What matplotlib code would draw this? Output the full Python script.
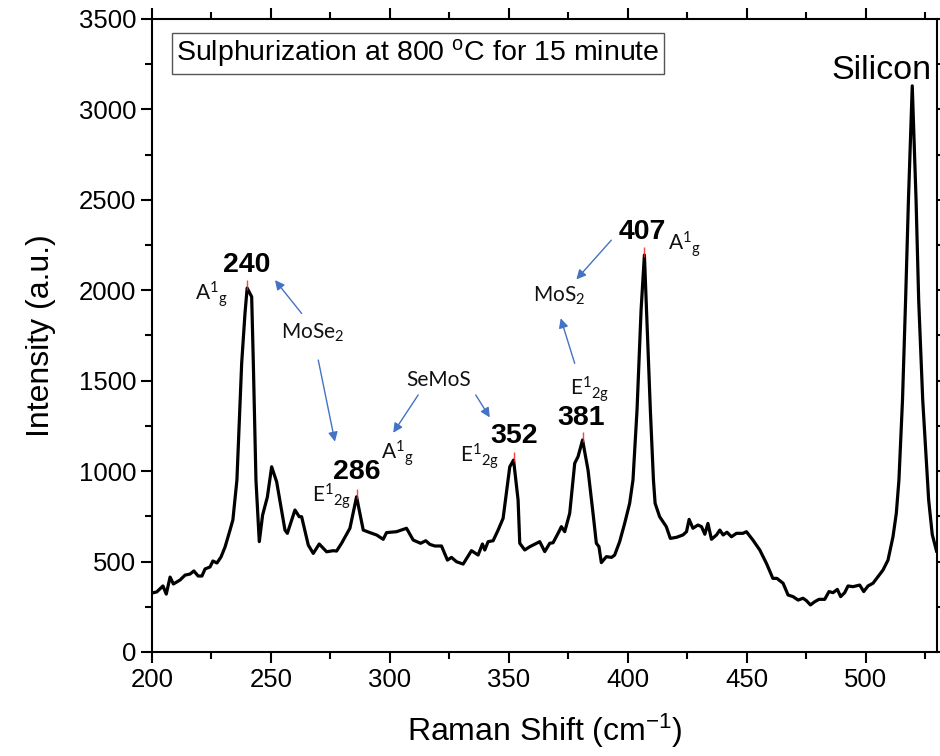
import numpy as np
import matplotlib
matplotlib.use("Agg")
import matplotlib.pyplot as plt
from matplotlib.ticker import MultipleLocator

# Raman spectrum (cm^-1, a.u.)
raman_shift = [
    200, 202, 204.6, 206, 207.6, 209, 211.8, 213.9, 216, 217.6, 219.4, 221,
    222.3, 224.4, 225.6, 227.3, 229, 230.7, 232.8, 234, 235.7, 237.7, 239.1,
    240, 241.9, 242.6, 243.7, 245.1, 246.5, 248.5, 250.3, 252.4, 255.9, 256.9,
    260.1, 261.9, 262.9, 265.7, 267.8, 270.3, 273.4, 276.2, 277.6, 279.7,
    283.2, 286, 288.8, 291.6, 294.4, 297.2, 298.6, 302.8, 307, 309.8, 312.9,
    315.1, 316.8, 318.9, 321.7, 324.2, 325.9, 328, 330.8, 334.3, 337.1, 338.9,
    339.9, 341.3, 343.4, 345.5, 347.6, 349.7, 350.4, 352, 353.9, 354.6, 356.7,
    358.8, 363, 365.1, 367.2, 368.6, 370.7, 372.1, 373.5, 375.6, 377.7, 379.1,
    381, 383.3, 385.4, 386.8, 387.9, 388.9, 391, 393.2, 394.5, 396.6, 398.7,
    400.8, 402.2, 403.9, 405.6, 407, 407.9, 409.5, 410.8, 411.5, 413.4, 416.2,
    417.9, 420.5, 423.2, 424.7, 425.8, 427.4, 429.5, 431, 432.4, 433.7, 435.2,
    437.3, 438.7, 440.1, 441.7, 443.6, 445.7, 448.4, 449.9, 452.6, 455.5,
    458.3, 461, 462.7, 465.3, 467.4, 469.5, 471.6, 473.7, 475.1, 476.8, 478.6,
    480.4, 482.8, 484.6, 486.3, 488.1, 489.5, 491.2, 492.6, 494.7, 497.5,
    499.2, 501, 503.1, 505.2, 507.3, 509.4, 511.5, 512.9, 514, 515.5, 516.8,
    518, 519.6, 521.2, 522.3, 524, 526.5, 528, 529.8,
]
intensity = [
    326, 332, 365, 320, 414, 376, 398, 425, 431, 448, 420, 420,
    459, 470, 503, 492, 525, 580, 674, 730, 951, 1597, 1874,
    2012, 1964, 1597, 951, 610, 757, 857, 1024, 941, 674, 656,
    785, 748, 748, 591, 545, 597, 554, 560, 558, 601,
    684, 858, 674, 660, 647, 623, 660, 665, 684, 619, 601,
    615, 595, 586, 586, 508, 523, 499, 486, 560, 536, 597,
    564, 610, 615, 674, 739, 951, 1024, 1061, 840, 601, 564,
    582, 610, 555, 601, 604, 656, 693, 665, 767, 1043, 1080,
    1172, 1006, 767, 601, 582, 494, 527, 523, 536, 610, 711,
    822, 951, 1338, 1890, 2195, 1890, 1338, 951, 822, 748, 693,
    628, 634, 647, 665, 733, 684, 702, 693, 651, 711, 623,
    647, 674, 647, 662, 637, 656, 656, 665, 619, 564,
    490, 407, 407, 380, 315, 306, 287, 297, 284, 260, 278,
    291, 291, 334, 328, 346, 306, 328, 365, 361, 370,
    334, 365, 380, 416, 453, 508, 637, 767, 951, 1393, 1946,
    2500, 3130, 2500, 1946, 1393, 840, 650, 558,
]

# labelled peak positions (cm^-1)
peak_shift = [240, 286, 352, 381, 407]

plt.rcParams["font.family"] = ["Liberation Sans", "DejaVu Sans"]
plt.rcParams["mathtext.default"] = "regular"

fig = plt.figure(figsize=(9.4, 7.56), dpi=100)
ax = fig.add_axes([0.1617, 0.1376, 0.8351, 0.8373])

ax.plot(raman_shift, intensity, color="black", lw=2.3, zorder=2)

peak_height = np.interp(peak_shift, raman_shift, intensity)
ax.vlines(peak_shift, peak_height - 10, peak_height + 45, color="#ff2020",
          lw=1, alpha=0.85, zorder=3)

ax.set_xlim(200, 530)
ax.set_ylim(0, 3500)
ax.xaxis.set_major_locator(MultipleLocator(50))
ax.xaxis.set_minor_locator(MultipleLocator(25))
ax.yaxis.set_major_locator(MultipleLocator(500))
ax.yaxis.set_minor_locator(MultipleLocator(250))
ax.tick_params(which="both", direction="out", top=True, right=True,
               width=1.5, labelsize=18.5, colors="black")
ax.tick_params(which="major", length=8)
ax.tick_params(which="minor", length=5)
for sp in ax.spines.values():
    sp.set_linewidth(1.5)

ax.set_xlabel(r"Raman Shift (cm$^{-1}$)", fontsize=23, labelpad=14)
ax.set_ylabel("Intensity (a.u.)", fontsize=23, labelpad=16)

ax.text(0.031, 0.9455, r"Sulphurization at 800 $^{o}$C for 15 minute",
        transform=ax.transAxes, fontsize=20.5, va="center", ha="left",
        bbox=dict(boxstyle="square,pad=0.15", fc="white", ec="#555555", lw=1))

ax.text(506.5, 3214, "Silicon", fontsize=24.5, ha="center", va="center")

# peak position numbers
num_pos = [(240, 2139), (286.2, 995), (352.1, 1194), (380.5, 1296), (406.3, 2323)]
for shift, (tx, ty) in zip(peak_shift, num_pos):
    ax.text(tx, ty, str(shift), fontsize=20.5, fontweight="bold",
            ha="center", va="center")

lab_font = ["Lato", "DejaVu Sans"]
A1g = r"A$^1$$_g$"
E12g = r"E$^1$$_{2g}$"
labels = [
    (A1g, 225.0, 1976),
    (E12g, 275.6, 862),
    (A1g, 303.1, 1100),
    (E12g, 337.8, 1083),
    (E12g, 384.0, 1454),
    (A1g, 424.0, 2255),
    (r"MoSe$_2$", 267.6, 1763),
    ("SeMoS", 320.3, 1504),
    (r"MoS$_2$", 371.0, 1968),
]
for txt, tx, ty in labels:
    ax.text(tx, ty, txt, fontsize=15, family=lab_font, color="#111111",
            ha="center", va="center")

arrows = [
    ((262.9, 1872), (251.7, 2056)),
    ((269.9, 1614), (276.9, 1163)),
    ((311.9, 1421), (301.4, 1212)),
    ((336.1, 1421), (342.0, 1297)),
    ((377.7, 1596), (371.8, 1845)),
    ((393.1, 2277), (378.4, 2060)),
]
for tail, head in arrows:
    ax.annotate("", xy=head, xytext=tail,
                arrowprops=dict(arrowstyle="-|>", color="#4472C4", lw=1,
                                mutation_scale=14, shrinkA=0, shrinkB=0))

fig.savefig("out.png", dpi=100)
